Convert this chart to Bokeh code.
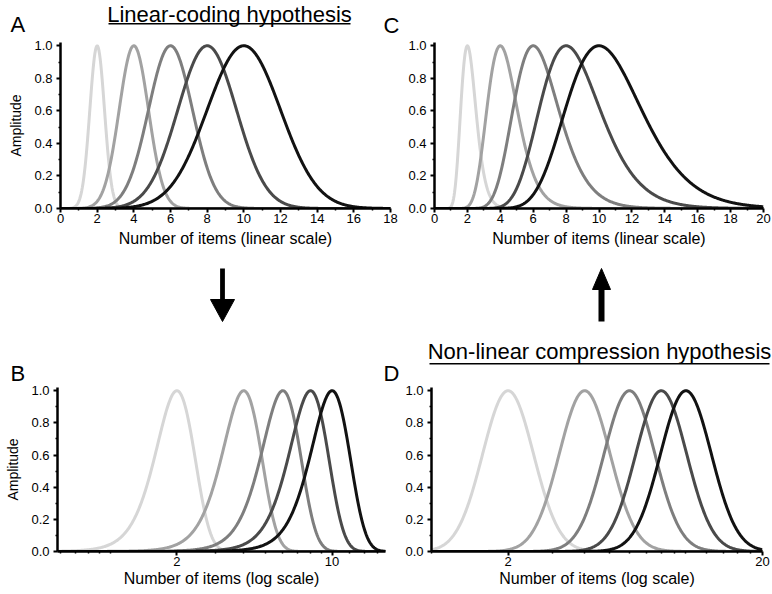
import numpy as np
from bokeh.plotting import figure
from bokeh.layouts import column, row
from bokeh.models import FixedTicker, PrintfTickFormatter, Range1d
from bokeh.core.properties import value
from bokeh.embed import file_html
from bokeh.resources import INLINE

# ---------------- data ----------------
numerosities = [2, 4, 6, 8, 10]
curve_colors = ["#d6d6d6", "#a2a2a2", "#7e7e7e", "#4a4a4a", "#121212"]
weber_fraction = 0.2     # linear coding: sd = 0.2 * n
log_sd = 0.1             # compression: sd in log10 units

y_ticks = [0.0, 0.2, 0.4, 0.6, 0.8, 1.0]
y_minor = [0.1, 0.3, 0.5, 0.7, 0.9]
a_ticks = [0, 2, 4, 6, 8, 10, 12, 14, 16, 18]
a_minor = [1, 3, 5, 7, 9, 11, 13, 15, 17]
c_ticks = [0, 2, 4, 6, 8, 10, 12, 14, 16, 18, 20]
c_minor = [1, 3, 5, 7, 9, 11, 13, 15, 17, 19]
b_ticks = [2, 10]
b_minor = [0.6, 0.7, 0.8, 0.9, 1, 3, 4, 5, 6, 7, 8, 9, 12, 14, 16]
d_ticks = [2, 20]
d_minor = [1, 3, 4, 5, 6, 7, 8, 9, 10, 12, 14, 16, 18]
a_range = (0, 18)
c_range = (0, 20)
b_range = (0.58, 17.4)
d_range = (1, 20)

title_top = "Linear-coding hypothesis"
title_bottom = "Non-linear compression hypothesis"
panel_letters = ["A", "C", "B", "D"]

FONT = "Liberation Sans"
W = 772


def linear_curve(x, n):
    return np.exp(-(x - n) ** 2 / (2 * (weber_fraction * n) ** 2))


def log_curve(x, n):
    return np.exp(-(np.log10(x) - np.log10(n)) ** 2 / (2 * log_sd ** 2))


def make_fig(width, height, xr, x_type, bl, br, bt, bb, xticks, xminor, xlabel, ylabel,
             label_standoff):
    p = figure(width=width, height=height, x_range=xr, y_range=(0, 1.02),
               x_axis_type=x_type, output_backend="svg", toolbar_location=None,
               min_border_left=bl, min_border_right=br, min_border_top=bt,
               min_border_bottom=bb)
    p.outline_line_color = None
    p.grid.visible = False
    p.xaxis.ticker = FixedTicker(ticks=xticks, minor_ticks=xminor)
    p.yaxis.ticker = FixedTicker(ticks=y_ticks, minor_ticks=y_minor)
    p.yaxis.formatter = PrintfTickFormatter(format="%.1f")
    p.xaxis.formatter = PrintfTickFormatter(format="%d")
    for ax in p.axis:
        ax.axis_line_width = 2.5
        ax.axis_line_color = "black"
        ax.major_tick_line_width = 2
        ax.minor_tick_line_width = 1.5
        ax.major_tick_out = 4
        ax.major_tick_in = 0
        ax.minor_tick_out = 2
        ax.minor_tick_in = 0
        ax.major_label_text_font = FONT
        ax.major_label_text_font_size = "13px"
        ax.major_label_text_color = "black"
        ax.axis_label_text_font = FONT
        ax.axis_label_text_font_style = "normal"
        ax.axis_label_text_color = "black"
    p.xaxis.major_label_standoff = 1
    p.xaxis.axis_label = xlabel
    p.xaxis.axis_label_text_font_size = "16px"
    p.xaxis.axis_label_standoff = label_standoff
    p.yaxis.major_label_standoff = 4
    if ylabel:
        p.yaxis.axis_label = ylabel
        p.yaxis.axis_label_text_font_size = "14px"
        p.yaxis.axis_label_standoff = 7
    return p


def strip(height):
    s = figure(width=W, height=height, x_range=Range1d(0, W), y_range=Range1d(height, 0),
               output_backend="svg", toolbar_location=None,
               x_axis_location=None, y_axis_location=None,
               min_border_left=0, min_border_right=0, min_border_top=0, min_border_bottom=0)
    s.outline_line_color = None
    s.grid.visible = False
    return s


def add_title(s, cx, mid, line_y, t, half):
    s.text(x=[cx], y=[mid], text=[t], text_align="center", text_baseline="middle",
           text_font=value(FONT), text_font_size=value("22px"), text_color="black")
    s.segment(x0=[cx - half], y0=[line_y], x1=[cx + half], y1=[line_y],
              line_width=1.6, line_color="black")


def add_letters(s, xs, mids, letters):
    s.text(x=xs, y=mids, text=letters, text_align="left",
           text_baseline="middle", text_font=value(FONT),
           text_font_size=value("22px"), text_color="black")


def add_arrow(s, x, y_tail, y_tip, head_w, head_len, shaft_w):
    d = 1 if y_tip > y_tail else -1
    s.segment(x0=[x], y0=[y_tail], x1=[x], y1=[y_tip - d * head_len * 0.8],
              line_width=shaft_w, line_color="black")
    s.patch(x=[x - head_w / 2, x + head_w / 2, x],
            y=[y_tip - d * head_len, y_tip - d * head_len, y_tip],
            fill_color="black", line_color="black", line_width=1)


# ---------------- text strips ----------------
s1 = strip(36)
add_title(s1, 229, 14, 23.3, title_top, 121)
add_letters(s1, [10, 383], [24, 24.5], panel_letters[:2])

s2 = strip(130)   # covers y 254..384 of the page
add_arrow(s2, 222, 14, 67, 24, 22, 4.8)
add_arrow(s2, 601, 67, 14, 18, 21, 6)
add_title(s2, 599, 96.5, 109.3, title_bottom, 170)
add_letters(s2, [10, 383], [118.5, 118.5], panel_letters[2:])

# ---------------- panels ----------------
pA = make_fig(401, 218, a_range, "linear", 60, 11, 6, 46, a_ticks, a_minor,
              "Number of items (linear scale)", "Amplitude", 4)
pC = make_fig(371, 218, c_range, "linear", 33, 9, 6, 46, c_ticks, c_minor,
              "Number of items (linear scale)", None, 4)
pB = make_fig(401, 210, b_range, "log", 57, 16, 3, 43, b_ticks, b_minor,
              "Number of items (log scale)", "Amplitude", 1)
pD = make_fig(371, 210, d_range, "log", 30, 10, 3, 43, d_ticks, d_minor,
              "Number of items (log scale)", None, 1)

xa = np.linspace(a_range[0], a_range[1], 500)
xc = np.linspace(0.02, c_range[1], 600)
xb = np.geomspace(b_range[0], b_range[1], 500)
xd = np.geomspace(d_range[0], d_range[1], 500)

for n, col in zip(numerosities, curve_colors):
    pA.line(xa, linear_curve(xa, n), line_color=col, line_width=3, line_join="round")
    pB.line(xb, linear_curve(xb, n), line_color=col, line_width=3, line_join="round")
    pC.line(xc, log_curve(xc, n), line_color=col, line_width=3, line_join="round")
    pD.line(xd, log_curve(xd, n), line_color=col, line_width=3, line_join="round")

layout = column(s1, row(pA, pC), s2, row(pB, pD))
open("out.html", "w").write(file_html(layout, INLINE))
